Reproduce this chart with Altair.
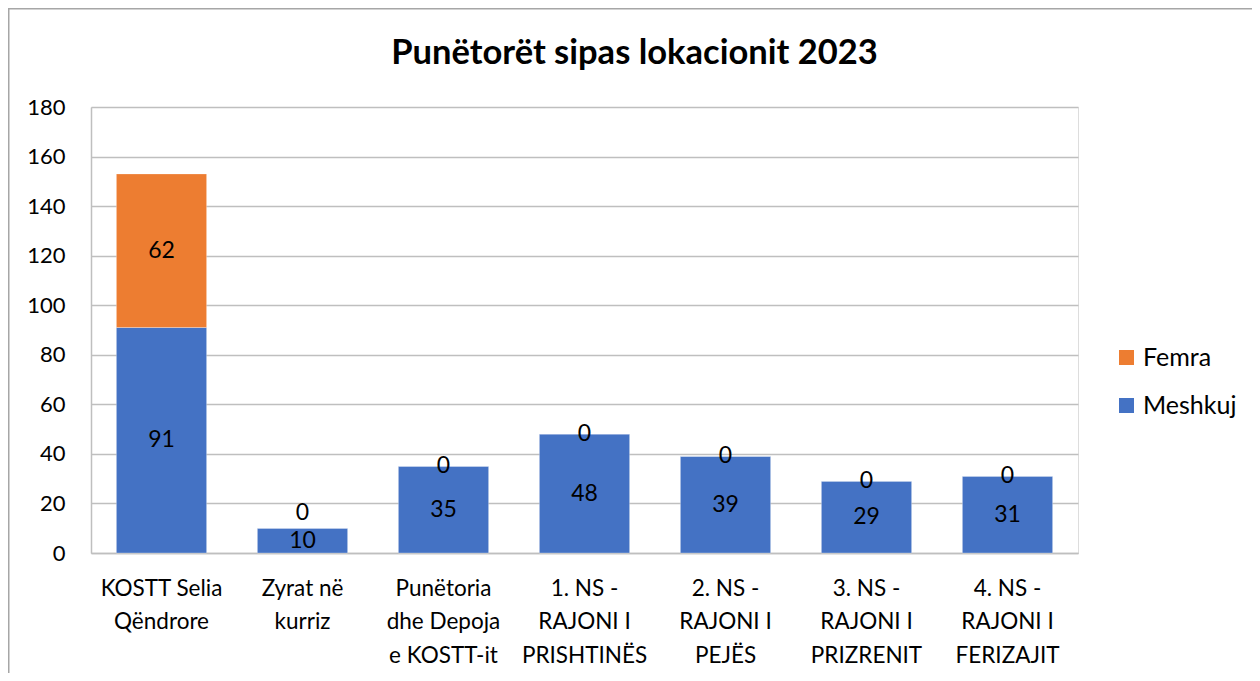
import altair as alt
import pandas as pd

categories = [
    "KOSTT Selia|Qëndrore",
    "Zyrat në|kurriz",
    "Punëtoria|dhe Depoja|e KOSTT-it",
    "1. NS -|RAJONI I|PRISHTINËS",
    "2. NS -|RAJONI I|PEJËS",
    "3. NS -|RAJONI I|PRIZRENIT",
    "4. NS -|RAJONI I|FERIZAJIT",
]
meshkuj = [91, 10, 35, 48, 39, 29, 31]
femra = [62, 0, 0, 0, 0, 0, 0]
series = ["Femra", "Meshkuj"]
colors = ["#ED7D31", "#4472C4"]

FONT = "Lato"

rows = []
for c, m, f in zip(categories, meshkuj, femra):
    rows.append({"loc": c, "gender": "Meshkuj", "value": m, "ord": 0})
    rows.append({"loc": c, "gender": "Femra", "value": f, "ord": 1})
long_df = pd.DataFrame(rows)
wide_df = pd.DataFrame({"loc": categories, "M": meshkuj, "F": femra})

x_enc = alt.X(
    "loc:N",
    sort=categories,
    title=None,
    scale=alt.Scale(paddingInner=0.36, paddingOuter=0.18),
    axis=alt.Axis(
        labelExpr="split(datum.label, '|')",
        labelAngle=0,
        labelFontSize=22.5,
        labelLineHeight=33.5,
        labelPadding=24,
        labelColor="#000000",
        labelFont=FONT,
        ticks=False,
        domainColor="#bfbfbf",
        domainWidth=1.5,
        grid=False,
    ),
)

y_scale = alt.Scale(domain=[0, 180])

bars = alt.Chart(long_df).mark_bar(stroke="#ffffff", strokeWidth=0.5, strokeOpacity=0.6).encode(
    x=x_enc,
    y=alt.Y(
        "value:Q",
        stack="zero",
        scale=y_scale,
        title=None,
        axis=alt.Axis(
            values=list(range(0, 181, 20)),
            labelFontSize=22,
            labelFont=FONT,
            labelColor="#000000",
            labelPadding=26,
            ticks=False,
            domainColor="#bfbfbf",
            domainWidth=1.5,
            gridColor="#bfbfbf",
            gridWidth=1.3,
        ),
    ),
    color=alt.Color(
        "gender:N",
        scale=alt.Scale(domain=series, range=colors),
        legend=alt.Legend(
            title=None,
            orient="none",
            legendX=1023,
            legendY=238,
            symbolType="square",
            symbolSize=225,
            symbolStrokeWidth=0,
            labelFontSize=25,
            labelFont=FONT,
            labelColor="#000000",
            rowPadding=22,
            labelOffset=4,
        ),
    ),
    order=alt.Order("ord:Q"),
)

m_labels = alt.Chart(wide_df).transform_calculate(
    ypos="datum.M / 2"
).mark_text(fontSize=23, font=FONT, color="#000000", baseline="middle").encode(
    x=alt.X("loc:N", sort=categories),
    y=alt.Y("ypos:Q", scale=y_scale),
    text="M:Q",
)

f_labels = alt.Chart(wide_df).transform_calculate(
    ypos="max(datum.M + datum.F / 2, datum.M / 2 + 11)"
).mark_text(fontSize=23, font=FONT, color="#000000", baseline="middle").encode(
    x=alt.X("loc:N", sort=categories),
    y=alt.Y("ypos:Q", scale=y_scale),
    text="F:Q",
)

frame = alt.Chart(pd.DataFrame({"a": [0]})).mark_rect(
    fill=None, stroke="#a6a6a6", strokeWidth=1.5
).encode(
    x=alt.value(-82.25),
    x2=alt.value(1400),
    y=alt.value(-98.25),
    y2=alt.value(900),
)

chart = alt.layer(frame, bars, m_labels, f_labels).properties(
    width=987,
    height=446,
    autosize=alt.AutoSizeParams(type="none"),
    padding={"left": 83, "top": 99, "right": 174, "bottom": 120},
    title=alt.TitleParams(
        "Punëtorët sipas lokacionit 2023",
        fontSize=34.5,
        font=FONT,
        fontWeight="bold",
        color="#000000",
        anchor="middle",
        frame="group",
        dx=50,
        dy=63,
        offset=0,
    ),
).configure_view(stroke="transparent", strokeWidth=0).configure(background="#ffffff")

chart.save("out.html", embed_options={"renderer": "svg", "actions": False})
